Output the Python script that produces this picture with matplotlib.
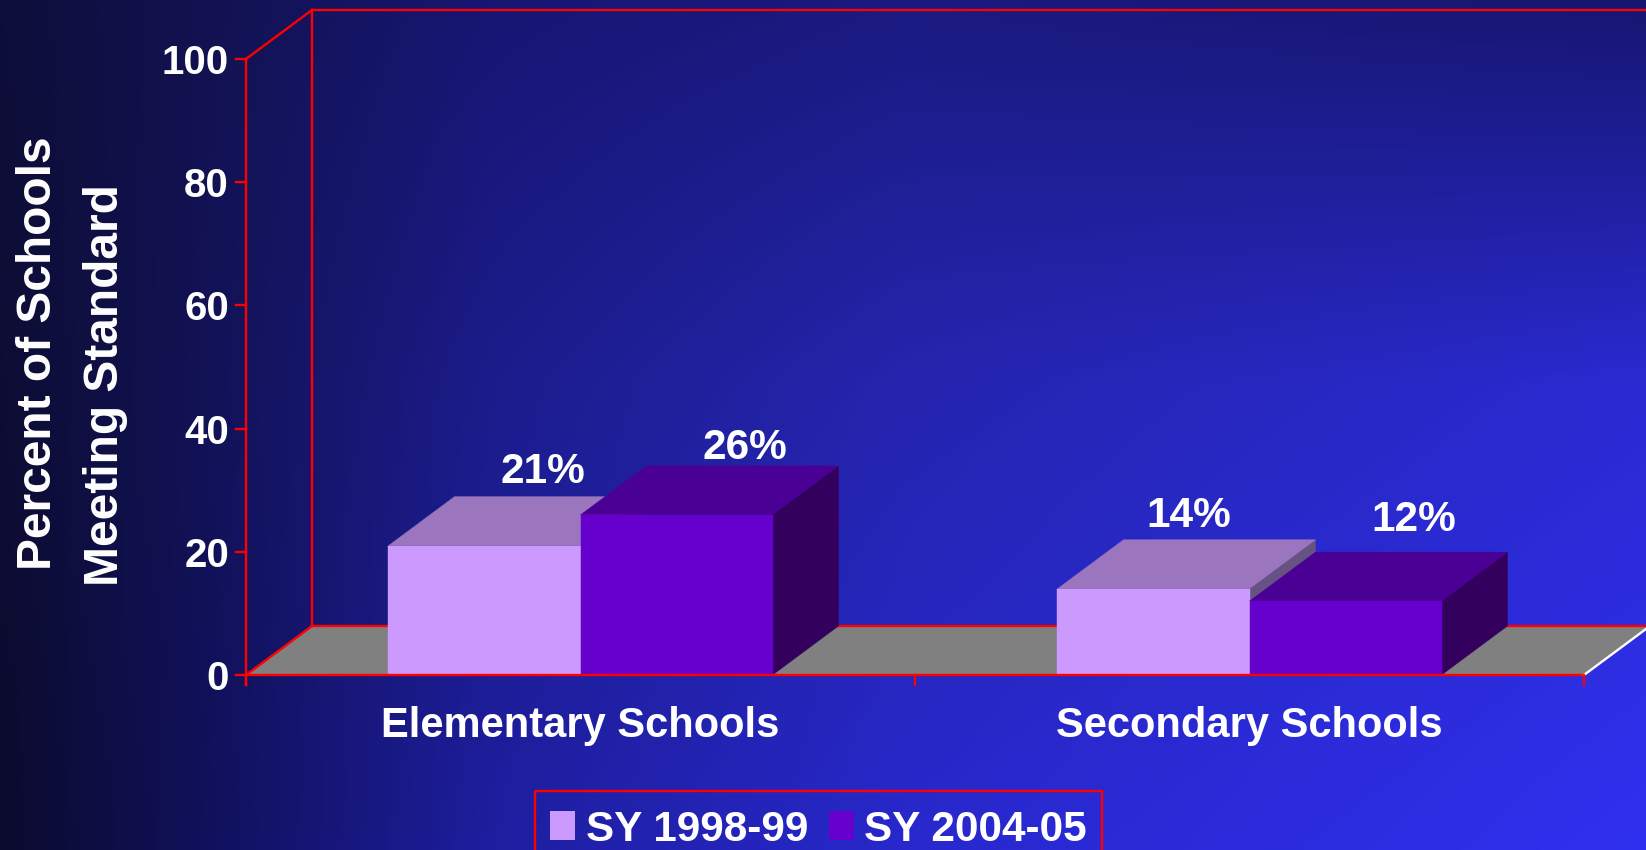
import numpy as np
import matplotlib
matplotlib.use("Agg")
import matplotlib.pyplot as plt
from matplotlib.patches import Polygon, Rectangle

# ---------------- data ----------------
categories = ["Elementary Schools", "Secondary Schools"]
series_names = ["SY 1998-99", "SY 2004-05"]
values = {
    "SY 1998-99": [21, 14],
    "SY 2004-05": [26, 12],
}
value_labels = {
    "SY 1998-99": ["21%", "14%"],
    "SY 2004-05": ["26%", "12%"],
}
yticks = [0, 20, 40, 60, 80, 100]
ylabel_lines = ["Percent of Schools", "Meeting Standard"]

# ---------------- styles ----------------
front_cols = {"SY 1998-99": "#cc99ff", "SY 2004-05": "#6600cc"}
top_cols = {"SY 1998-99": "#9b76be", "SY 2004-05": "#4a0094"}
side_cols = {"SY 1998-99": "#675383", "SY 2004-05": "#33005e"}
RED = "#ff0000"
FONT = "Liberation Sans"

W, H = 1646, 850
X0, CW = 246.0, 669.0      # pixel of x=0, pixels per category
Y0, S = 675.0, 6.16        # pixel of value 0, pixels per value unit
DX = 66.0 / CW             # depth offset (data units)
DY = 49.0 / S
BW = 0.287                 # bar width (category units)
# label offsets (pixels) relative to bar front-centre / back-top
lab_dx = {"SY 1998-99": [58, 35], "SY 2004-05": [68, 68]}
lab_dy = {"SY 1998-99": [14, 13], "SY 2004-05": [7, 21]}

fig = plt.figure(figsize=(W / 100, H / 100), dpi=100)

# ---------------- background gradient (pixel axes) ----------------
axbg = fig.add_axes([0, 0, 1, 1], zorder=0)
axbg.set_xlim(0, W)
axbg.set_ylim(H, 0)
axbg.axis("off")
gx = [0, 0.12, 0.3, 0.55, 1.0]
gy = [0.0, 0.45, 1.0]
grid = np.array([
    [(14, 14, 58), (18, 18, 80), (22, 22, 115), (26, 26, 128), (22, 22, 112)],
    [(13, 13, 52), (18, 18, 85), (28, 28, 140), (37, 37, 175), (42, 42, 210)],
    [(11, 11, 46), (16, 16, 90), (30, 30, 160), (40, 40, 205), (48, 48, 240)],
], dtype=float) / 255.0
xn = np.linspace(0, 1, W)
yn = np.linspace(0, 1, H)
rows = np.stack([np.stack([np.interp(xn, gx, grid[r, :, c]) for c in range(3)], -1)
                 for r in range(len(gy))])          # (3, W, 3)
img = np.empty((H, W, 3))
for c in range(3):
    for j in range(W):
        img[:, j, c] = np.interp(yn, gy, rows[:, j, c])
axbg.imshow(img, extent=(0, W, H, 0), aspect="auto", interpolation="bilinear")

# ---------------- legend (pixel coords) ----------------
axbg.add_patch(Rectangle((535, 791), 567, 80, fill=False, ec=RED, lw=1.7))
leg_sq_x = [550, 829]
leg_tx_x = [586, 864]
for name, sx, tx in zip(series_names, leg_sq_x, leg_tx_x):
    axbg.add_patch(Rectangle((sx, 811), 25, 29, fc=front_cols[name], ec="none"))
    axbg.text(tx, 841, name, color="white", fontsize=30.4, fontweight="bold",
              family=FONT, ha="left", va="baseline")

# ---------------- main chart axes ----------------
ax = fig.add_axes([0, 0, 1, 1], zorder=1)
ax.patch.set_visible(False)
ax.axis("off")
ax.set_xlim(-X0 / CW, (W - X0) / CW)
ax.set_ylim((Y0 - H) / S, Y0 / S)

ncat = len(categories)
top = yticks[-1]

# floor
ax.add_patch(Polygon([(0, 0), (ncat, 0), (ncat + DX, DY), (DX, DY)],
                     closed=True, fc="#808080", ec="none", zorder=1))
# back floor edge, back wall edges
ax.plot([DX, ncat + DX + 0.2], [DY, DY], color=RED, lw=1.7, zorder=2)
ax.plot([DX, DX], [DY, top + DY], color=RED, lw=1.7, zorder=2)
ax.plot([DX, ncat + DX + 0.2], [top + DY, top + DY], color=RED, lw=1.7, zorder=2)
ax.plot([0, DX], [top, top + DY], color=RED, lw=1.7, zorder=2)
ax.plot([0, DX], [0, DY], color=RED, lw=1.7, zorder=2)

# bars
z = 3
for i, cat in enumerate(categories):
    for k, name in enumerate(series_names):
        v = values[name][i]
        x0 = i + 0.5 - BW + k * BW
        x1 = x0 + BW
        side = [(x1, 0), (x1 + DX, DY), (x1 + DX, v + DY), (x1, v)]
        topf = [(x0, v), (x1, v), (x1 + DX, v + DY), (x0 + DX, v + DY)]
        front = [(x0, 0), (x1, 0), (x1, v), (x0, v)]
        ax.add_patch(Polygon(side, closed=True, fc=side_cols[name],
                             ec=side_cols[name], lw=0.3, zorder=z))
        ax.add_patch(Polygon(topf, closed=True, fc=top_cols[name],
                             ec=top_cols[name], lw=0.3, zorder=z))
        ax.add_patch(Polygon(front, closed=True, fc=front_cols[name],
                             ec=front_cols[name], lw=0.3, zorder=z))
        z += 1
        # value label
        lx = (x0 + x1) / 2 + lab_dx[name][i] / CW
        ly = v + DY + lab_dy[name][i] / S
        ax.text(lx, ly, value_labels[name][i], color="white", fontsize=30.5,
                fontweight="bold", family=FONT, ha="center", va="baseline",
                zorder=20)

# front edges / axis
ax.plot([0, ncat], [0, 0], color=RED, lw=1.7, zorder=15)
ax.plot([ncat, ncat + DX], [0, DY], color="white", lw=1.7, zorder=15)
ax.plot([0, 0], [-10 / S, top], color=RED, lw=1.7, zorder=15)
for t in yticks:
    ax.plot([-10 / CW, 0], [t, t], color=RED, lw=1.7, zorder=15)
    ax.text(-17 / CW, t, str(t), color="white", fontsize=29, fontweight="bold",
            family=FONT, ha="right", va="center_baseline", zorder=20)
for i in range(ncat + 1):
    ax.plot([i, i], [0, -10 / S], color=RED, lw=1.7, zorder=15)
for i, cat in enumerate(categories):
    ax.text(i + 0.5, -47 / S, cat, color="white", fontsize=30, fontweight="bold",
            family=FONT, ha="center", va="center_baseline", zorder=20)

# y-axis label (two lines, rotated)
axbg.text(51, 353, ylabel_lines[0], color="white", fontsize=34.5, fontweight="bold",
          family=FONT, rotation=90, rotation_mode="anchor", ha="center",
          va="baseline")
axbg.text(118, 385, ylabel_lines[1], color="white", fontsize=34.5, fontweight="bold",
          family=FONT, rotation=90, rotation_mode="anchor", ha="center",
          va="baseline")

fig.savefig("out.png", dpi=100)
